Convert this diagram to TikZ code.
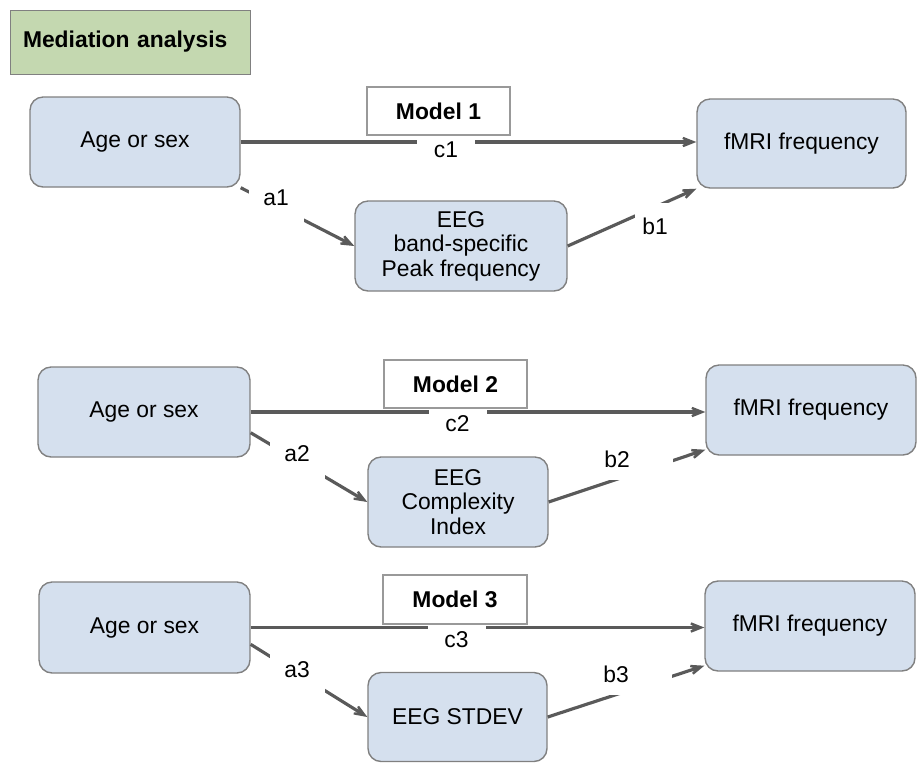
\documentclass[tikz,border=0pt]{standalone}
\usepackage{fontspec}
\setmainfont{Liberation Sans}
\usetikzlibrary{arrows.meta}

\definecolor{boxblue}{RGB}{213,224,238}
\definecolor{boxedge}{RGB}{128,128,128}
\definecolor{titlegreen}{RGB}{196,216,176}
\definecolor{linegray}{RGB}{90,90,90}

\tikzset{
  varbox/.style={draw=boxedge, line width=0.8pt, fill=boxblue, rounded corners=0.26cm, align=center, inner sep=0pt, minimum width=4.2cm, minimum height=1.8cm},
  modelbox/.style={draw=boxedge!80, line width=0.6pt, fill=white, font=\fontsize{13}{14}\selectfont\bfseries, inner sep=0pt, minimum width=2.86cm, minimum height=0.96cm},
  link/.style={draw=linegray, line width=1.8pt, -{Stealth[length=0.48cm, width=0.38cm, inset=0.3cm]}},
  lab/.style={fill=white, inner sep=0pt, anchor=base},
  clab/.style={lab, minimum width=1.16cm, text height=0.44cm, text depth=0pt},
  alab/.style={lab, minimum width=1.1cm, text height=0.46cm, text depth=0.36cm},
  blab/.style={lab, anchor=base west, text width=1.38cm, align=left, text height=0.36cm, text depth=0.26cm}
}

\begin{document}
\begin{tikzpicture}[x=0.02cm, y=-0.02cm, font=\fontsize{13}{14}\selectfont]
    \useasboundingbox (0,0) rectangle (918,762);

    % Title
    \node[draw=boxedge, fill=titlegreen, minimum height=1.28cm, text width=4.28cm, inner xsep=0.26cm, align=left, font=\fontsize{13}{14}\selectfont\bfseries] (title) at (130,42) {Mediation analysis};

    % Model 1 Blocks
    \node[varbox] (age1) at (135,142) {Age or sex};
    \node[varbox, minimum width=4.18cm, minimum height=1.78cm] (fmri1) at (801.5,143.5) {fMRI frequency};
    \node[varbox, minimum width=4.24cm] (eeg1) at (461,246) {EEG\\band-specific\\Peak frequency};
    \node[modelbox] (model1) at (438.5,111) {Model 1};

    % Model 2 Blocks
    \node[varbox, minimum width=4.24cm] (age2) at (144,412) {Age or sex};
    \node[varbox] (fmri2) at (811,410) {fMRI frequency};
    \node[varbox, minimum width=3.6cm] (eeg2) at (458,502) {EEG\\Complexity\\Index};
    \node[modelbox] (model2) at (455.5,384) {Model 2};

    % Model 3 Blocks
    \node[varbox, minimum width=4.22cm, minimum height=1.82cm] (age3) at (144.5,627.5) {Age or sex};
    \node[varbox] (fmri3) at (810,626) {fMRI frequency};
    \node[varbox, minimum width=3.58cm, minimum height=1.78cm] (eeg3) at (457.5,717) {EEG STDEV};
    \node[modelbox, minimum width=2.88cm, minimum height=0.98cm] (model3) at (455,599.5) {Model 3};

    % Arrows
    \draw[link] (age1.east) -- (age1.east -| fmri1.west);
    \draw[link] (age1.south east) -- (eeg1.west);
    \draw[link] (eeg1.east) -- (fmri1.south west);
    \draw[link] (age2.east) -- (age2.east -| fmri2.west);
    \draw[link] (age2.-11) -- (eeg2.west);
    \draw[link] (eeg2.east) -- ([yshift=0.12cm]fmri2.south west);
    \draw[link] (age3.east) -- (age3.east -| fmri3.west);
    \draw[link] (age3.-9) -- (eeg3.west);
    \draw[link] (eeg3.east) -- ([yshift=0.12cm]fmri3.south west);

    % Labels
    \node[clab, text height=0.36cm] (c1) at (446,157) {c1};
    \node[alab] (a1) at (276,205) {a1};
    \node[lab, minimum width=0.8cm, text height=0.62cm, text depth=0.06cm] (b1) at (655,234) {b1};
    \node[clab] (c2) at (457.5,431) {c2};
    \node[alab] (a2) at (297,461) {a2};
    \node[blab] (b2) at (604,467) {b2};
    \node[clab] (c3) at (456.5,647) {c3};
    \node[alab] (a3) at (297,677) {a3};
    \node[blab] (b3) at (603,682) {b3};
\end{tikzpicture}
\end{document}
